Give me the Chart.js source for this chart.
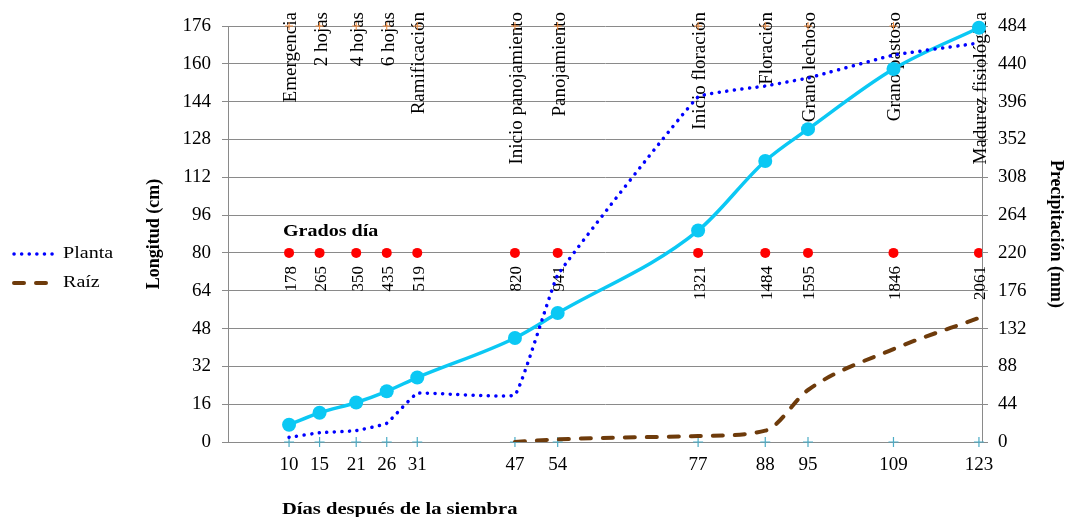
<!DOCTYPE html>
<html><head><meta charset="utf-8">
<script src="https://cdn.jsdelivr.net/npm/chart.js@4/dist/chart.umd.min.js"></script>
<style>html,body{margin:0;padding:0;background:#fff}#w{width:1066px;height:517px;position:relative}</style>
</head><body><div id="w"><canvas id="c"></canvas></div>
<script>
// ---- data ----
const dias = [10,15,21,26,31,47,54,77,88,95,109,123];
const etapas = ["Emergencia","2 hojas","4 hojas","6 hojas","Ramificación","Inicio panojamiento","Panojamiento","Inicio floración","Floración","Grano lechoso","Grano pastoso","Madurez fisiológica"];
const gradosDia = [178,265,350,435,519,820,941,1321,1484,1595,1846,2061];
const planta = [2,3.9,4.8,7.9,20.6,20,70.6,146,150.6,154,163.7,168.8];
const raizDias = [47,54,77,88,95,109,123];
const raiz = [0,1.1,2.5,4.8,22,39.3,52.5];
const precipitacion = [20,34,46,59,75,121,150,246,327,364,434,482];
const longitudEje = {min:0,max:176,step:16};
const precipEje = {min:0,max:484,step:44};
const gradosNivel = 80;

const SERIF = '"Liberation Serif","Times New Roman",serif';
const xy = (xs, ys) => xs.map((d,i)=>({x:d,y:ys[i]}));

const textPlugin = {
  id:'textos',
  beforeDatasetsDraw(chart){
    const ctx = chart.ctx, xs = chart.scales.x, yL = chart.scales.y;
    ctx.save();
    ctx.fillStyle = '#000';
    ctx.textBaseline = 'middle';
    ctx.textAlign = 'right';
    dias.forEach((d,i)=>{
      const px = xs.getPixelForValue(d);
      ctx.save();
      ctx.font = '19px ' + SERIF;
      ctx.translate(px+2, 12);
      ctx.rotate(-Math.PI/2);
      ctx.fillText(etapas[i], 0, 0);
      ctx.restore();
      ctx.save();
      ctx.font = '17px ' + SERIF;
      ctx.translate(px+2, yL.getPixelForValue(gradosNivel) + 13);
      ctx.rotate(-Math.PI/2);
      ctx.fillText(String(gradosDia[i]), 0, 0);
      ctx.restore();
    });
    ctx.save();
    ctx.textAlign = 'left';
    ctx.font = 'bold 17px ' + SERIF;
    ctx.translate(283, 232);
    ctx.scale(1.18,1);
    ctx.fillText('Grados día', 0, 0);
    ctx.restore();
    ctx.restore();
  },
  afterDraw(chart){
    const ctx = chart.ctx;
    ctx.save();
    ctx.fillStyle = '#000';
    ctx.textBaseline = 'middle';
    ctx.textAlign = 'left';
    ctx.save();
    ctx.font = 'bold 17px ' + SERIF;
    ctx.translate(282, 510);
    ctx.scale(1.21,1);
    ctx.fillText('Días después de la siembra', 0, 0);
    ctx.restore();
    const ds = chart.data.datasets;
    const items = [[ds[1], 254, 'Planta'], [ds[0], 283, 'Raíz']];
    items.forEach(([d, y, label])=>{
      ctx.save();
      ctx.strokeStyle = d.borderColor;
      ctx.lineWidth = d.borderWidth;
      ctx.lineCap = 'round';
      ctx.setLineDash(d.borderDash);
      ctx.beginPath(); ctx.moveTo(14, y); ctx.lineTo(56, y); ctx.stroke();
      ctx.restore();
      ctx.save();
      ctx.font = '17px ' + SERIF;
      ctx.translate(63, y);
      ctx.scale(1.18,1);
      ctx.fillText(label, 0, 0);
      ctx.restore();
    });
    ctx.restore();
  }
};

new Chart(document.getElementById('c'), {
  type:'line',
  data:{
    datasets:[
      {label:'Raíz', data:xy(raizDias, raiz), yAxisID:'y', borderColor:'#6E3B0B', borderWidth:4,
       borderDash:[10,12], borderCapStyle:'round', pointRadius:0, fill:false, cubicInterpolationMode:'monotone'},
      {label:'Planta', data:xy(dias, planta), yAxisID:'y', borderColor:'#0000FF', borderWidth:3.5,
       borderDash:[0.1,7.5], borderCapStyle:'round', pointRadius:0, fill:false, tension:0.08},
      {label:'Precipitación', data:xy(dias, precipitacion), yAxisID:'yR', borderColor:'#0BC8F4', backgroundColor:'#0BC8F4',
       borderWidth:3.5, pointRadius:7, pointBorderWidth:0, fill:false, cubicInterpolationMode:'monotone', clip:false},
      {label:'Grados día', data:dias.map(d=>({x:d,y:gradosNivel})), yAxisID:'y', showLine:false,
       pointRadius:5, pointBackgroundColor:'#FF0000', pointBorderColor:'#FF0000', pointBorderWidth:0},
      {label:'Etapas', data:dias.map(d=>({x:d,y:longitudEje.max})), yAxisID:'y', showLine:false, clip:false,
       pointStyle:'cross', pointRadius:4, pointBorderColor:'#F08A3C', pointBorderWidth:1},
      {label:'Marcas', data:dias.map(d=>({x:d,y:0})), yAxisID:'y', showLine:false, clip:false,
       pointStyle:'cross', pointRadius:5, pointBorderColor:'#4BACC6', pointBorderWidth:1.2}
    ]
  },
  options:{
    responsive:true, maintainAspectRatio:false, animation:false,
    layout:{padding:{left:140, top:26, right:0, bottom:0}},
    plugins:{legend:{display:false}, tooltip:{enabled:false}},
    events:[],
    scales:{
      x:{type:'linear', min:0, max:123.5,
         afterBuildTicks(s){ s.ticks = dias.map(v=>({value:v})); },
         afterFit(s){ s.height = 75; },
         grid:{display:true, drawOnChartArea:false, drawTicks:false},
         border:{display:true, color:'#8a8a8a', width:1},
         ticks:{autoSkip:false, maxRotation:0, padding:12, color:'#000', font:{family:SERIF, size:19}}
      },
      y:{type:'linear', position:'left', min:longitudEje.min, max:longitudEje.max,
         afterFit(s){ s.width = 88; },
         grid:{color:'#8a8a8a', lineWidth:1, tickLength:6},
         border:{color:'#8a8a8a', width:1},
         ticks:{stepSize:longitudEje.step, padding:11, color:'#000', font:{family:SERIF, size:19}},
         title:{display:true, text:'Longitud (cm)', color:'#000', padding:{top:4,bottom:0}, font:{family:SERIF, size:18, weight:'bold'}}
      },
      yR:{type:'linear', position:'right', min:precipEje.min, max:precipEje.max,
         afterFit(s){ s.width = 84; },
         grid:{drawOnChartArea:false, color:'#8a8a8a', tickLength:6},
         border:{color:'#8a8a8a', width:1},
         ticks:{stepSize:precipEje.step, padding:10, color:'#000', font:{family:SERIF, size:19}},
         title:{display:true, text:'Precipitación (mm)', color:'#000', padding:{top:0,bottom:0}, font:{family:SERIF, size:18, weight:'bold'}}
      }
    }
  },
  plugins:[textPlugin]
});
</script></body></html>
